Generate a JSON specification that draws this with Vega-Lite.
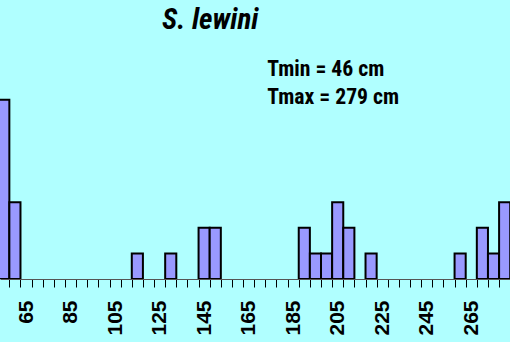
{
  "$schema": "https://vega.github.io/schema/vega-lite/v6.json",
  "autosize": "none",
  "width": 510,
  "height": 279,
  "padding": {"left": 0, "right": 0, "top": 0, "bottom": 63},
  "background": "#B0FFFF",
  "title": {
    "text": "S. lewini",
    "font": "Roboto Condensed, Liberation Sans, sans-serif",
    "fontSize": 29,
    "fontWeight": "bold",
    "fontStyle": "italic",
    "color": "#000000",
    "anchor": "start",
    "frame": "group",
    "dx": 162,
    "offset": -35
  },
  "config": {
    "view": {"stroke": null, "fill": null}
  },
  "data": {
    "values": [
      {"lo": 52.5, "hi": 57.5, "n": 7},
      {"lo": 57.5, "hi": 62.5, "n": 3},
      {"lo": 112.5, "hi": 117.5, "n": 1},
      {"lo": 127.5, "hi": 132.5, "n": 1},
      {"lo": 142.5, "hi": 147.5, "n": 2},
      {"lo": 147.5, "hi": 152.5, "n": 2},
      {"lo": 187.5, "hi": 192.5, "n": 2},
      {"lo": 192.5, "hi": 197.5, "n": 1},
      {"lo": 197.5, "hi": 202.5, "n": 1},
      {"lo": 202.5, "hi": 207.5, "n": 3},
      {"lo": 207.5, "hi": 212.5, "n": 2},
      {"lo": 217.5, "hi": 222.5, "n": 1},
      {"lo": 257.5, "hi": 262.5, "n": 1},
      {"lo": 267.5, "hi": 272.5, "n": 2},
      {"lo": 272.5, "hi": 277.5, "n": 1},
      {"lo": 277.5, "hi": 282.5, "n": 3}
    ]
  },
  "layer": [
    {
      "mark": {"type": "bar", "fill": "#9999FF", "stroke": "#000000", "strokeWidth": 2, "clip": true},
      "encoding": {
        "x": {
          "field": "lo",
          "type": "quantitative",
          "scale": {"domain": [53.3, 282.4], "nice": false, "zero": false},
          "axis": {
            "values": [57.5, 62.5, 67.5, 72.5, 77.5, 82.5, 87.5, 92.5, 97.5, 102.5, 107.5, 112.5, 117.5, 122.5, 127.5, 132.5, 137.5, 142.5, 147.5, 152.5, 157.5, 162.5, 167.5, 172.5, 177.5, 182.5, 187.5, 192.5, 197.5, 202.5, 207.5, 212.5, 217.5, 222.5, 227.5, 232.5, 237.5, 242.5, 247.5, 252.5, 257.5, 262.5, 267.5, 272.5, 277.5],
            "tickCount": 100,
            "labelExpr": "(datum.value - 62.5) % 20 === 0 ? format(datum.value + 2.5, 'd') : ''",
            "labelOffset": 5.6,
            "labelAngle": -90,
            "labelAlign": "right",
            "labelBaseline": "middle",
            "labelFont": "Liberation Sans",
            "labelFontWeight": "bold",
            "labelFontSize": 21,
            "labelColor": "#000000",
            "labelPadding": 13,
            "labelOverlap": false,
            "labelBound": false,
            "labelFlush": false,
            "tickSize": 8,
            "tickWidth": 1,
            "tickColor": "#000000",
            "domainColor": "#555555",
            "domainWidth": 1,
            "grid": false,
            "title": null
          }
        },
        "x2": {"field": "hi"},
        "y": {
          "field": "n",
          "type": "quantitative",
          "scale": {"domain": [0, 10.9], "nice": false},
          "axis": null
        },
        "y2": {"datum": 0}
      }
    },
    {
      "data": {"values": [{}]},
      "mark": {
        "type": "text",
        "text": ["Tmin = 46 cm", "Tmax = 279 cm"],
        "font": "Roboto Condensed, Liberation Sans, sans-serif",
        "fontWeight": "bold",
        "fontSize": 21.7,
        "lineHeight": 28.3,
        "align": "left",
        "baseline": "alphabetic",
        "color": "#000000"
      },
      "encoding": {
        "x": {"datum": 173.4},
        "y": {"datum": 7.93}
      }
    }
  ]
}
